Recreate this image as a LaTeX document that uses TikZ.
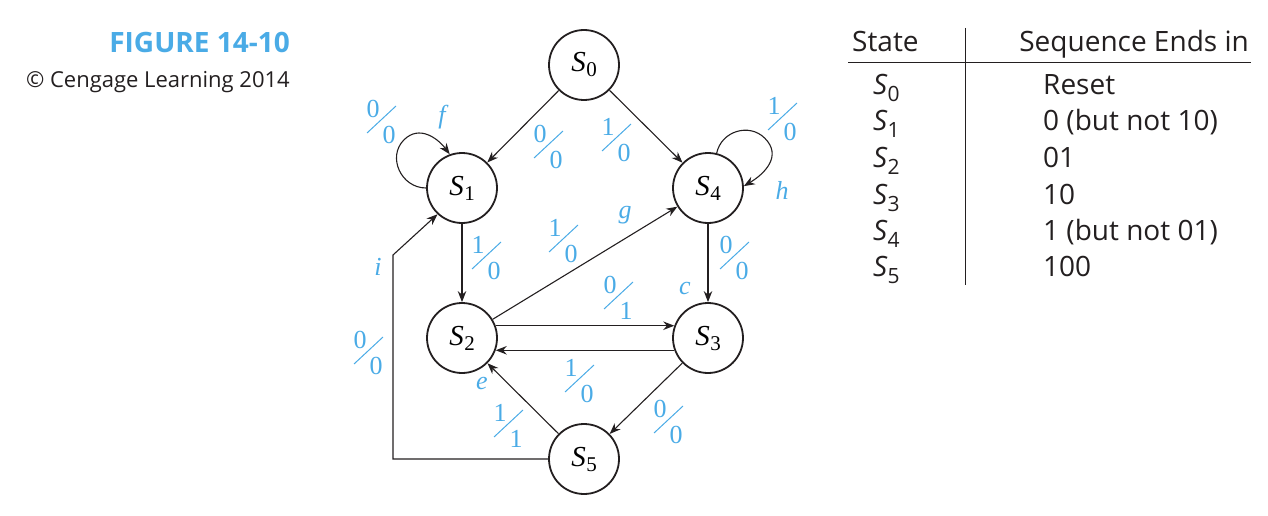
\documentclass[tikz,border=0pt]{standalone}
\usepackage{fontspec}
\newfontfamily\tblfont{Open Sans}
\newfontfamily\diafont{Liberation Serif}
\usetikzlibrary{arrows.meta}
\definecolor{lblblue}{RGB}{74,171,230}
\definecolor{ink}{RGB}{35,31,32}
% subscripted state name for the table
\newcommand\tblS[1]{{\itshape S}\kern0.3pt\raisebox{-7pt}{\fontsize{21}{21}\selectfont #1}}
% subscripted state name inside the circles
\newcommand\diaS[1]{{\itshape S}\kern0.5pt\raisebox{-5pt}{\fontsize{21}{21}\selectfont #1}}
\tikzset{
  state/.style={circle,draw=ink,line width=1.8pt,minimum size=70pt,inner sep=0pt,
    font=\diafont\fontsize{29}{29}\selectfont},
  edge/.style={draw=ink,line width=1.1pt,-{Stealth[length=11pt,width=8.5pt]}},
  lbl/.style={text=lblblue,font=\diafont\fontsize{26}{26}\selectfont,inner sep=0pt},
  tag/.style={lbl,font=\diafont\itshape\fontsize{26}{26}\selectfont},
  tbl/.style={text=ink,font=\tblfont\fontsize{28}{28}\selectfont,inner sep=0pt},
  pics/io/.style 2 args={code={
    \node[lbl] (-num) at (-8,-11) {#1};
    \node[lbl] (-den) at (8,15) {#2};
    \draw[lblblue,line width=1pt] (-14,13) -- (15,-14);}}
}
\begin{document}
\begin{tikzpicture}[x=1pt,y=-1pt]
\useasboundingbox (0,0) rectangle (1268,516);

% caption
\node[text=lblblue,font=\tblfont\bfseries\fontsize{28}{28}\selectfont,inner sep=0pt,anchor=base east]
  (figno) at (290,53) {FIGURE 14-10};
\node[tbl,font=\tblfont\fontsize{22}{22}\selectfont,anchor=base east]
  (credit) at (290,88) {\textcopyright{} Cengage Learning 2014};

% states
\node[state] (S0) at (584,65) {\diaS{0}};
\node[state] (S1) at (462,188) {\diaS{1}};
\node[state] (S4) at (708,188) {\diaS{4}};
\node[state] (S2) at (462,338) {\diaS{2}};
\node[state] (S3) at (708,338) {\diaS{3}};
\node[state] (S5) at (584,459) {\diaS{5}};

% transitions
\draw[edge] (S0) -- (S1);
\draw[edge] (S0) -- (S4);
\draw[edge] (S1) -- (S2);
\draw[edge] (S4) -- (S3);
\draw[edge] (S2) -- (S4);
\draw[edge] (S2.20) -- (S3.160);
\draw[edge] (S3.200) -- (S2.-20);
\draw[edge] (S3) -- (S5);
\draw[edge] (S5) -- (S2);
\coordinate (iLow) at (393,459);
\coordinate (iUp) at (393,255);
\draw[edge] (S5.west) -- (iLow) -- (iUp) -- (S1.227);

% self loops, each drawn as two cubic pieces of a near-circle
\coordinate (fMid) at (403.9,139.9);
\draw[edge] (S1.180) .. controls +(-25,0) and +(-17,17) .. (fMid)
  .. controls +(15.4,-15.4) and +(-12,-16) .. (S1.110);
\coordinate (hMid) at (764.8,138.2);
\draw[edge] (S4.76) .. controls +(4.6,-22) and +(-15.7,-15.7) .. (hMid)
  .. controls +(17.6,17.6) and +(21,-12.5) .. (S4.3);

% input/output labels
\pic (ioS1S1) at (381,120) {io={0}{0}};
\pic (ioS0S1) at (548,145) {io={0}{0}};
\pic (ioS0S4) at (616,138) {io={1}{0}};
\pic (ioS4S4) at (782,117) {io={1}{0}};
\pic (ioS2S4) at (563,239) {io={1}{0}};
\pic (ioS1S2) at (486,256) {io={1}{0}};
\pic (ioS4S3) at (734,256) {io={0}{0}};
\pic (ioS2S3) at (618,296) {io={0}{1}};
\pic (ioS3S2) at (579,379) {io={1}{0}};
\pic (ioS5S2) at (508,424) {io={1}{1}};
\pic (ioS3S5) at (668,420) {io={0}{0}};
\pic (ioS5S1) at (368,351) {io={0}{0}};

% transition tags
\node[tag] (tf) at (442,117) {f};
\node[tag] (th) at (782,190) {h};
\node[tag] (tg) at (625,215) {g};
\node[tag] (tc) at (685,288) {c};
\node[tag] (te) at (482,383) {e};
\node[tag] (ti) at (378,267) {i};

% state table
\draw[ink,line width=1pt] (965,28) -- (965,285);
\draw[ink,line width=1pt] (848,63) -- (1251,63);
\node[tbl,anchor=base west] (hState) at (852,52) {State};
\node[tbl,anchor=base east] (hSeq) at (1249,52) {Sequence Ends in};
\node[tbl,anchor=base west] (r0a) at (873,95) {\tblS{0}};
\node[tbl,anchor=base west] (r1a) at (873,131) {\tblS{1}};
\node[tbl,anchor=base west] (r2a) at (873,167) {\tblS{2}};
\node[tbl,anchor=base west] (r3a) at (873,204) {\tblS{3}};
\node[tbl,anchor=base west] (r4a) at (873,240) {\tblS{4}};
\node[tbl,anchor=base west] (r5a) at (873,276) {\tblS{5}};
\node[tbl,anchor=base west] (r0b) at (1043,95) {Reset};
\node[tbl,anchor=base west] (r1b) at (1043,131) {0 (but not 10)};
\node[tbl,anchor=base west] (r2b) at (1043,167) {01};
\node[tbl,anchor=base west] (r3b) at (1043,204) {10};
\node[tbl,anchor=base west] (r4b) at (1043,240) {1 (but not 01)};
\node[tbl,anchor=base west] (r5b) at (1043,276) {100};
\end{tikzpicture}
\end{document}
